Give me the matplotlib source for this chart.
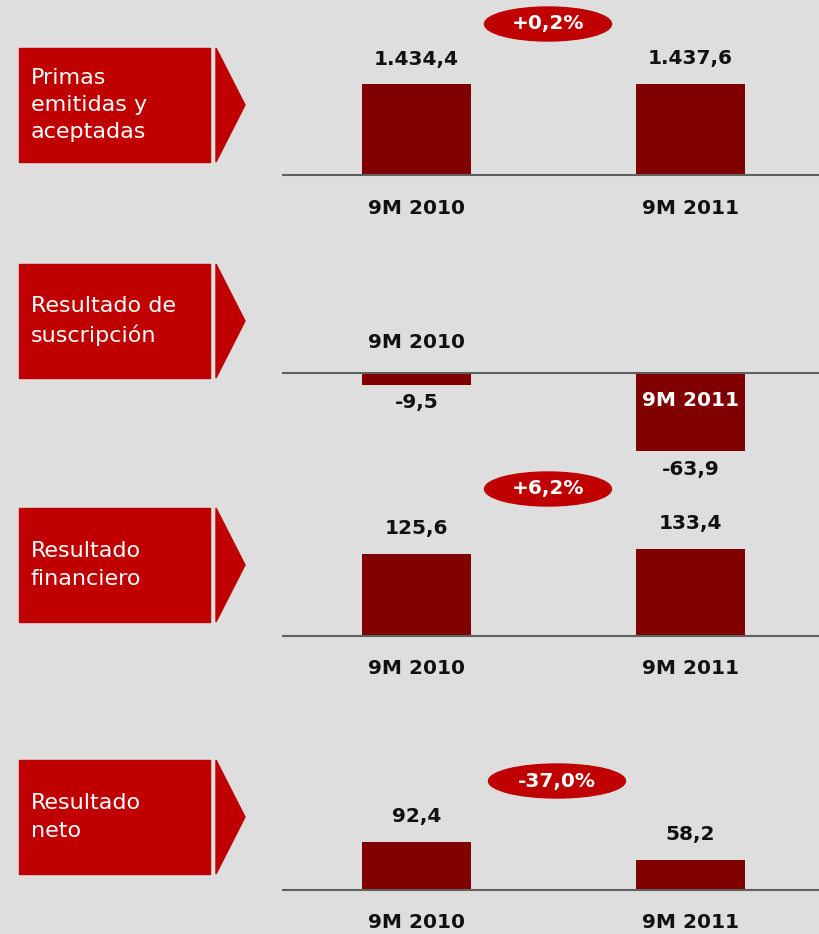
import matplotlib
matplotlib.use("Agg")
import matplotlib.pyplot as plt
from matplotlib.patches import Rectangle, Polygon, Ellipse

# data
titles = ["Primas\nemitidas y\naceptadas", "Resultado de\nsuscripción",
          "Resultado\nfinanciero", "Resultado\nneto"]
periods = ["9M 2010", "9M 2011"]
v_primas = [1434.4, 1437.6]
v_suscripcion = [-9.5, -63.9]
v_financiero = [125.6, 133.4]
v_neto = [92.4, 58.2]
labels_primas = ["1.434,4", "1.437,6"]
labels_suscripcion = ["-9,5", "-63,9"]
labels_financiero = ["125,6", "133,4"]
labels_neto = ["92,4", "58,2"]
changes = ["+0,2%", None, "+6,2%", "-37,0%"]

values = [v_primas, v_suscripcion, v_financiero, v_neto]
value_labels = [labels_primas, labels_suscripcion, labels_financiero, labels_neto]

W, H = 820, 934
BG = "#dedede"
BOX = "#c00000"
BAR = "#800000"

fig = plt.figure(figsize=(W / 100, H / 100), dpi=100, facecolor=BG)

def fx(x):
    return x / W

def fy(y):
    return 1 - y / H

# layout per panel (pixels): axes top/bottom, baseline, px per unit, label box top
panels = [
    dict(t0=0, t1=240, base=175, scale=0.0634, box=48, ell=(548, 24, 127)),
    dict(t0=240, t1=480, base=373, scale=1.225, box=264, ell=None),
    dict(t0=480, t1=720, base=636, scale=0.655, box=508, ell=(548, 489, 127)),
    dict(t0=720, t1=934, base=890, scale=0.52, box=760, ell=(557, 781, 137)),
]

x0, x1 = 282, 820
c0, c1 = 416.5, 690.5
unit = c1 - c0
xlim = (-(c0 - x0) / unit, 1 + (x1 - c1) / unit)
bar_w = 109 / unit

for i, p in enumerate(panels):
    ax = fig.add_axes([fx(x0), fy(p["t1"]), (x1 - x0) / W, (p["t1"] - p["t0"]) / H])
    ax.set_xlim(*xlim)
    ax.set_ylim(-(p["t1"] - p["base"]) / p["scale"], (p["base"] - p["t0"]) / p["scale"])
    ax.axis("off")
    ax.patch.set_alpha(0)
    vals = values[i]
    ax.bar([0, 1], vals, width=bar_w, color=BAR, zorder=2)
    ax.axhline(0, color="#606060", lw=1.5, zorder=3)

    for j, v in enumerate(vals):
        if v >= 0:
            ax.annotate(value_labels[i][j], (j, v), xytext=(0, 25), textcoords="offset pixels",
                        ha="center", va="center", fontsize=14.5, fontweight="bold", color="#111111")
            ax.annotate(periods[j], (j, 0), xytext=(0, -33), textcoords="offset pixels",
                        ha="center", va="center", fontsize=14.5, fontweight="bold", color="#111111")
        else:
            ax.annotate(value_labels[i][j], (j, v), xytext=(0, -18), textcoords="offset pixels",
                        ha="center", va="center", fontsize=14.5, fontweight="bold", color="#111111")
            if j == 0:
                ax.annotate(periods[j], (j, 0), xytext=(0, 31), textcoords="offset pixels",
                            ha="center", va="center", fontsize=14.5, fontweight="bold", color="#111111")
            else:
                ax.annotate(periods[j], (j, 0), xytext=(0, -28), textcoords="offset pixels",
                            ha="center", va="center", fontsize=14.5, fontweight="bold", color="white")

    # label box with arrow
    bt = p["box"]
    fig.patches.append(Rectangle((fx(19), fy(bt + 114)), 191 / W, 114 / H,
                                 transform=fig.transFigure, color=BOX, zorder=1))
    fig.patches.append(Polygon([(fx(216), fy(bt)), (fx(245), fy(bt + 57)), (fx(216), fy(bt + 114))],
                               closed=True, transform=fig.transFigure, color=BOX, zorder=1))
    fig.text(fx(31), fy(bt + 57), titles[i], color="white", fontsize=16,
             ha="left", va="center", linespacing=1.45)

    if changes[i]:
        ex, ey, ew = p["ell"]
        fig.patches.append(Ellipse((fx(ex), fy(ey)), ew / W, 34 / H,
                                   transform=fig.transFigure, color=BOX, zorder=1))
        fig.text(fx(ex), fy(ey), changes[i], color="white", fontsize=14.5, fontweight="bold",
                 ha="center", va="center")

fig.savefig("out.png", dpi=100, facecolor=BG)
